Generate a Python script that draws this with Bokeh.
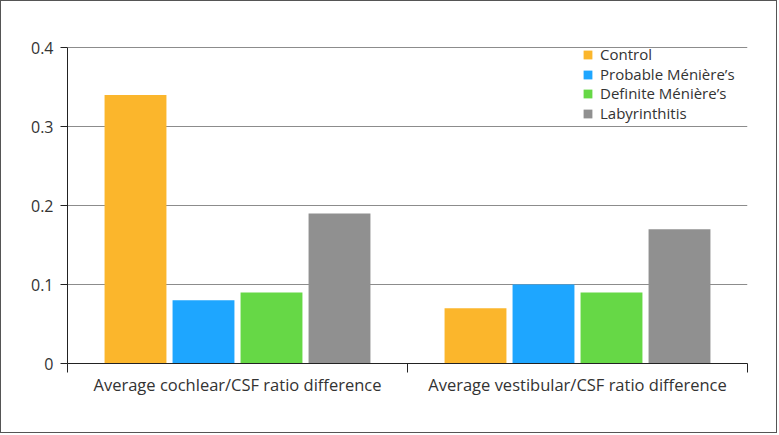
from bokeh.plotting import figure
from bokeh.models import ColumnDataSource, Range1d, FixedTicker, Legend, LegendItem, Grid
from bokeh.embed import file_html
from bokeh.resources import INLINE

categories = ["Average cochlear/CSF ratio difference", "Average vestibular/CSF ratio difference"]
series = ["Control", "Probable Ménière’s", "Definite Ménière’s", "Labyrinthitis"]
control = [0.34, 0.07]
probable = [0.08, 0.10]
definite = [0.09, 0.09]
labyrinthitis = [0.19, 0.17]
colors = ["#FBB62C", "#1EA6FF", "#66D846", "#909090"]
y_ticks = [0, 0.1, 0.2, 0.3, 0.4]

values = [control, probable, definite, labyrinthitis]
offsets = [-0.3, -0.1, 0.1, 0.3]

FONT = "Open Sans"
TXT = "#333333"
GRID = "#8C8C8C"

# frame top sits 7px above the 0.4 line so the legend fits inside the frame
y_top = y_ticks[-1] * 323 / 316

p = figure(width=777, height=433, output_backend="svg", toolbar_location=None,
           x_range=Range1d(0, len(categories)), y_range=Range1d(0, y_top),
           min_border_left=66, min_border_right=31, min_border_top=39, min_border_bottom=71)
p.outline_line_color = None
p.styles = {"border": "1px solid #555555"}

p.xgrid.grid_line_color = None
p.ygrid.ticker = FixedTicker(ticks=y_ticks[1:-1])
p.ygrid.grid_line_color = GRID
p.ygrid.grid_line_width = 1
# top grid line stops where the legend box starts
top_grid = Grid(dimension=1, ticker=FixedTicker(ticks=[y_ticks[-1]]), bounds=(0, 1.4735),
                grid_line_color=GRID, grid_line_width=1)
p.add_layout(top_grid)

renderers = []
for name, vals, off, col in zip(series, values, offsets, colors):
    src = ColumnDataSource(dict(x=[i + 0.5 + off for i in range(len(categories))], top=vals))
    r = p.vbar(x="x", top="top", width=0.182, bottom=0, source=src, fill_color=col, line_color=None)
    renderers.append(r)

# one legend box per entry, so rows can sit closer than the text line height
legend_pos = [(515, 299), (515, 279), (515, 260), (515, 240)]
for name, r, pos in zip(series, renderers, legend_pos):
    lg = Legend(items=[LegendItem(label=name, renderers=[r])], location=pos,
                padding=0, margin=0, glyph_width=11, glyph_height=11, label_standoff=7,
                label_height=15, spacing=0,
                label_text_font=FONT, label_text_font_size="15px", label_text_color=TXT,
                border_line_color=None, background_fill_alpha=0.0)
    p.add_layout(lg)

# x axis: category labels at centers, boundary ticks as minor ticks
p.xaxis.ticker = FixedTicker(ticks=[i + 0.5 for i in range(len(categories))],
                             minor_ticks=list(range(len(categories) + 1)))
p.xaxis.major_label_overrides = {i + 0.5: c for i, c in enumerate(categories)}
p.xaxis.major_tick_out = 0
p.xaxis.major_tick_in = 0
p.xaxis.minor_tick_out = 9
p.xaxis.minor_tick_in = 0
p.xaxis.minor_tick_line_color = "#222222"
p.xaxis.axis_line_color = "#222222"
p.xaxis.major_label_standoff = 0
p.xaxis.major_label_text_font = FONT
p.xaxis.major_label_text_font_size = "16.5px"
p.xaxis.major_label_text_color = TXT

p.yaxis.ticker = FixedTicker(ticks=y_ticks, minor_ticks=[])
p.yaxis.bounds = (y_ticks[0], y_ticks[-1])
p.yaxis.major_label_overrides = {0: "0"}
p.yaxis.major_tick_out = 7
p.yaxis.major_tick_in = 0
p.yaxis.minor_tick_out = 0
p.yaxis.minor_tick_in = 0
p.yaxis.axis_line_color = "#222222"
p.yaxis.major_tick_line_color = "#222222"
p.yaxis.major_label_standoff = 7
p.yaxis.major_label_text_font = FONT
p.yaxis.major_label_text_font_size = "16px"
p.yaxis.major_label_text_color = TXT

open("out.html", "w").write(file_html(p, INLINE))
